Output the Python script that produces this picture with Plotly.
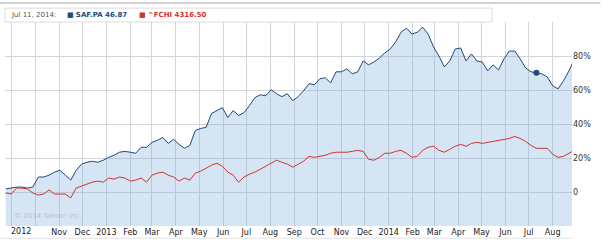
import pandas as pd
import plotly.graph_objects as go

# Weekly closes (Fridays), % change since start
dates = pd.date_range("2012-08-24", periods=106, freq="W-FRI")

saf_pct = [
    1.8, 2.3, 2.9, 2.9, 2.3, 2.9, 8.8, 8.8, 9.9, 11.7,
    12.8, 9.9, 7.0, 12.8, 16.4, 17.5, 18.1, 17.5, 18.7, 20.4,
    21.6, 23.4, 23.9, 23.4, 22.8, 26.3, 26.3, 29.2, 30.4, 32.1,
    28.6, 31.0, 28.0, 25.7, 27.4, 36.2, 37.4, 38.0, 46.1, 47.9,
    49.6, 43.8, 47.9, 45.0, 46.7, 50.8, 55.5, 57.2, 56.6, 60.2,
    57.8, 56.1, 57.8, 53.7, 56.1, 59.6, 63.7, 63.1, 66.6, 67.2,
    64.2, 70.7, 70.7, 72.4, 69.5, 70.7, 77.1, 74.8, 76.5, 78.8,
    81.8, 84.1, 88.2, 94.0, 96.4, 92.9, 94.0, 96.9, 92.9, 85.3,
    80.0, 73.6, 77.1, 84.1, 84.7, 77.1, 81.2, 77.1, 76.5, 71.2,
    74.8, 71.8, 78.3, 82.9, 82.9, 78.3, 73.0, 70.7, 70.1, 69.5,
    67.7, 62.5, 60.7, 65.4, 71.2, 78.3,
]

fchi_pct = [
    -0.6, -1.2, 2.3, 2.3, 1.8, -0.6, -1.8, -1.2, 1.2, -1.2,
    -1.2, -1.2, -3.5, 2.3, 3.5, 4.7, 5.8, 6.4, 5.8, 8.2,
    7.6, 8.8, 8.2, 6.4, 7.0, 8.2, 5.8, 9.9, 11.1, 11.7,
    9.9, 8.8, 6.4, 8.2, 7.0, 11.1, 12.3, 14.0, 15.8, 16.9,
    15.2, 11.7, 9.9, 5.8, 8.8, 10.5, 11.7, 13.4, 15.2, 16.9,
    18.7, 17.5, 16.4, 14.6, 16.4, 18.1, 21.0, 20.4, 21.0, 21.6,
    22.8, 23.4, 23.4, 23.4, 23.9, 24.5, 23.9, 19.3, 18.7, 20.4,
    22.8, 22.8, 23.9, 24.5, 22.8, 20.4, 21.0, 24.5, 26.3, 26.9,
    24.5, 23.4, 25.1, 26.9, 28.0, 26.9, 28.6, 29.2, 28.6, 29.2,
    29.8, 30.4, 31.0, 31.5, 32.7, 31.5, 29.8, 27.4, 25.7, 25.7,
    25.7, 22.2, 20.4, 21.0, 22.8, 24.5,
]

month_ticks = pd.date_range("2012-09-01", "2014-08-01", freq="MS")
first_label = "2012"
month_text = ["", "", "Nov", "Dec", "2013", "Feb", "Mar", "Apr", "May", "Jun",
              "Jul", "Aug", "Sep", "Oct", "Nov", "Dec", "2014", "Feb", "Mar", "Apr",
              "May", "Jun", "Jul", "Aug"]
y_ticks = [-20, 0, 20, 40, 60, 80, 100]
y_text = ["", "0", "20%", "40%", "60%", "80%", ""]

hover_date = pd.Timestamp("2014-07-11")
hover_label = "Jul 11, 2014:"
saf_name, saf_last = "SAF.PA", "46.87"
fchi_name, fchi_last = "^FCHI", "4316.50"

Y_MIN, Y_MAX = -20, 100
BLUE = "#1f4a7a"
RED = "#d0342c"
FONT = "DejaVu Sans"

fig = go.Figure()
fig.add_trace(go.Scatter(x=list(dates), y=[Y_MIN] * len(dates), mode="lines",
                         line=dict(width=0), hoverinfo="skip", showlegend=False))
fig.add_trace(go.Scatter(x=list(dates), y=saf_pct, mode="lines", fill="tonexty",
                         fillcolor="rgba(120,170,215,0.30)",
                         line=dict(color=BLUE, width=1), showlegend=False))
fig.add_trace(go.Scatter(x=list(dates), y=fchi_pct, mode="lines",
                         line=dict(color=RED, width=1), showlegend=False))
hi = list(dates).index(hover_date)
fig.add_trace(go.Scatter(x=[hover_date], y=[saf_pct[hi]], mode="markers",
                         marker=dict(color=BLUE, size=6), showlegend=False))

fig.update_layout(
    width=609, height=251,
    margin=dict(l=5, r=37, t=22, b=25),
    paper_bgcolor="white", plot_bgcolor="white",
    font=dict(family=FONT, size=8, color="#333"),
    xaxis=dict(range=["2012-08-23", "2014-08-26"], tickvals=list(month_ticks),
               ticktext=month_text, showgrid=True, gridcolor="#d2d6da", gridwidth=1,
               ticks="", showline=False, zeroline=False,
               tickfont=dict(family=FONT, size=8, color="#222")),
    yaxis=dict(range=[Y_MIN, Y_MAX], side="right", tickvals=y_ticks, ticktext=y_text,
               showgrid=True, gridcolor="#d2d6da", gridwidth=1, zeroline=False,
               ticks="", showline=False,
               tickfont=dict(family=FONT, size=8, color="#333")),
    shapes=[
        dict(type="line", xref="paper", yref="paper", x0=-0.01, x1=1.05,
             y0=1.093, y1=1.093, line=dict(color="#c4c4c4", width=1.5)),
        dict(type="rect", xref="paper", yref="paper", x0=0.0, x1=0.859,
             y0=1.0, y1=1.068, line=dict(color="#dcdcdc", width=1), fillcolor="white"),
        dict(type="line", xref="paper", yref="paper", x0=-0.01, x1=1.0,
             y0=-0.06, y1=-0.06, line=dict(color="#e2e2e2", width=1)),
    ],
    annotations=[
        dict(xref="x", yref="paper", x=month_ticks[0], y=-0.026, xanchor="left",
             yanchor="middle", xshift=-3, showarrow=False, text=first_label,
             font=dict(family=FONT, size=8, color="#222")),
        dict(xref="paper", yref="paper", x=0.007, y=1.034, xanchor="left", yanchor="middle",
             showarrow=False, text=hover_label, font=dict(family=FONT, size=7, color="#555")),
        dict(xref="paper", yref="paper", x=0.105, y=1.034, xanchor="left", yanchor="middle",
             showarrow=False,
             text=f"<span style='color:{BLUE}'>■</span> <b>{saf_name} {saf_last}</b>",
             font=dict(family=FONT, size=7, color=BLUE)),
        dict(xref="paper", yref="paper", x=0.232, y=1.034, xanchor="left", yanchor="middle",
             showarrow=False,
             text=f"<span style='color:{RED}'>■</span> <b>{fchi_name} {fchi_last}</b>",
             font=dict(family=FONT, size=7, color=RED)),
        dict(xref="paper", yref="paper", x=0.012, y=0.05, xanchor="left", yanchor="middle",
             showarrow=False, text="© 2014 Yahoo! Inc.",
             font=dict(family=FONT, size=7, color="#b8c4cf")),
    ],
)

fig.write_html("out.html")
